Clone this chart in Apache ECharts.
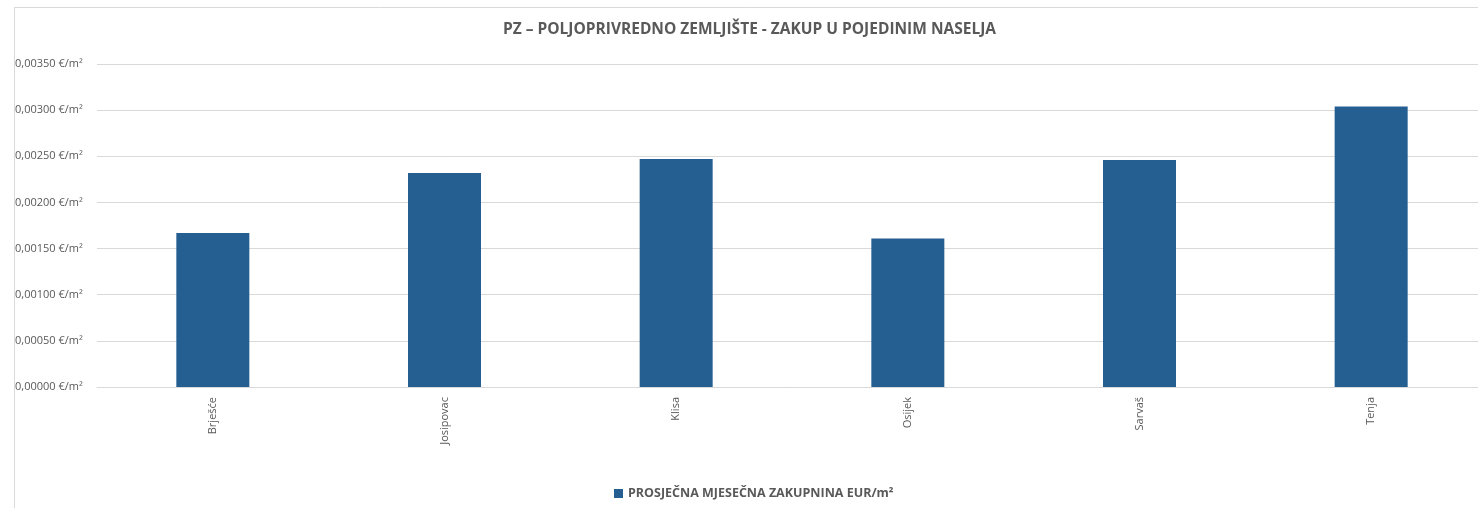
<!DOCTYPE html>
<html>
<head>
<meta charset="utf-8">
<script src="https://cdn.jsdelivr.net/npm/echarts@6/dist/echarts.min.js"></script>
<style>
html,body{margin:0;padding:0;background:#fff;}
#chart{width:1478px;height:508px;}
</style>
</head>
<body>
<div id="chart"></div>
<script>
const categories = ['Brješće', 'Josipovac', 'Klisa', 'Osijek', 'Sarvaš', 'Tenja'];
const values = [0.00167, 0.00232, 0.00247, 0.00161, 0.00246, 0.00304];
const seriesName = 'PROSJEČNA MJESEČNA ZAKUPNINA EUR/m²';
const titleText = 'PZ – POLJOPRIVREDNO ZEMLJIŠTE - ZAKUP U POJEDINIM NASELJA';

const chart = echarts.init(document.getElementById('chart'));
const font = '"Open Sans", "Noto Sans", sans-serif';
chart.setOption({
  animation: false,
  textStyle: { fontFamily: font },
  graphic: [{
    type: 'rect', silent: true, z: -10,
    shape: { x: 14.5, y: 7.5, width: 1600, height: 700 },
    style: { fill: '#fff', stroke: '#d9d9d9', lineWidth: 1 }
  }],
  title: {
    text: titleText, left: 498, top: 17,
    textStyle: { fontFamily: font, fontSize: 15.5, fontWeight: 'bold', color: '#595959' }
  },
  legend: {
    bottom: 3, left: 609,
    icon: 'rect', itemWidth: 9, itemHeight: 9, itemGap: 4,
    textStyle: { fontFamily: font, fontSize: 12.5, fontWeight: 'bold', color: '#595959' }
  },
  grid: { left: 97, width: 1390, top: 64, height: 323, containLabel: false, outerBoundsMode: 'none' },
  xAxis: {
    type: 'category', data: categories,
    axisLine: { lineStyle: { color: '#d9d9d9', width: 1 } },
    axisTick: { show: false },
    axisLabel: { rotate: 90, margin: 10, color: '#595959', fontSize: 11, fontFamily: font }
  },
  yAxis: {
    type: 'value', min: 0, max: 0.0035, interval: 0.0005,
    axisLine: { show: false }, axisTick: { show: false },
    splitLine: { lineStyle: { color: '#d9d9d9', width: 1 } },
    axisLabel: {
      color: '#595959', fontSize: 11, fontFamily: font, align: 'left', margin: 82,
      verticalAlign: 'middle', lineHeight: 11, padding: [4, 0, 0, 0],
      formatter: v => v.toFixed(5).replace('.', ',') + ' €/m²'
    }
  },
  series: [{
    name: seriesName, type: 'bar', data: values, barWidth: 73,
    itemStyle: { color: '#255e91' }
  }]
});
</script>
</body>
</html>
